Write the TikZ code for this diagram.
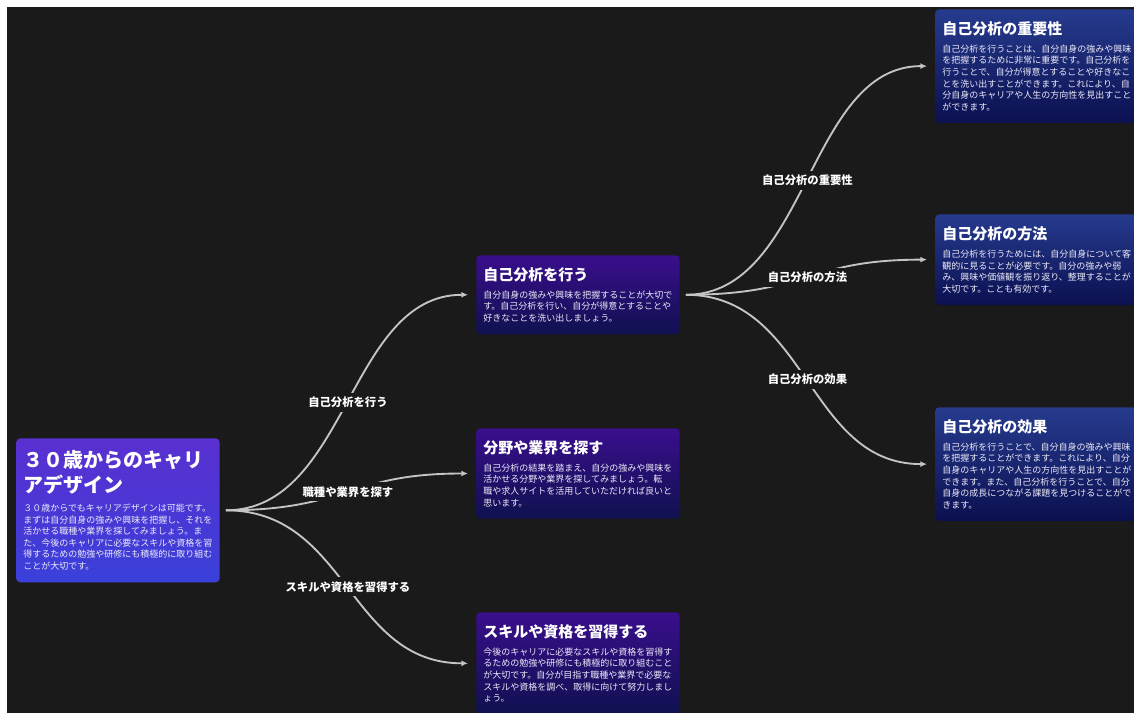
\documentclass[tikz,border=0pt]{standalone}
\usepackage{fontspec}
\setmainfont{Noto Sans CJK JP}
\usetikzlibrary{arrows.meta}

\definecolor{canvas}{HTML}{1A1A1A}
\definecolor{linkgray}{HTML}{C4C4C4}
\definecolor{rootTop}{HTML}{5A2FD0}
\definecolor{rootBot}{HTML}{3A40DA}
\definecolor{midTop}{HTML}{3A0E8C}
\definecolor{midBot}{HTML}{0F1150}
\definecolor{sideTop}{HTML}{263B8E}
\definecolor{sideBot}{HTML}{0B1050}
\definecolor{bodytext}{HTML}{ECEAF8}

\newcommand{\cardtitle}[1]{{\fontsize{11.25}{14}\selectfont\bfseries\color{white}#1\par}\vspace{5pt}}

\begin{document}
\begin{tikzpicture}[x=0.75pt,y=-0.75pt,
  card/.style={anchor=north west, rounded corners=3pt, text width=142pt, align=left,
    inner xsep=5.25pt, inner ysep=9pt, text=bodytext, font=\fontsize{6.75}{8.7}\selectfont},
  rootcard/.style={card, top color=rootTop, bottom color=rootBot},
  midcard/.style={card, top color=midTop, bottom color=midBot},
  sidecard/.style={card, top color=sideTop, bottom color=sideBot},
  link/.style={draw=linkgray, line width=1.4pt, -{Latex[length=5pt,width=4.5pt]},
    shorten <=4.5pt, shorten >=6pt},
  tag/.style={fill=canvas, text=white, inner sep=3pt,
    font=\fontsize{8.5}{10}\selectfont\bfseries}]

  \clip (0,0) rectangle (1134,713);
  \fill[white] (0,0) rectangle (1134,713);
  \fill[canvas] (7,7) rectangle (1134,713);

  % root
  \node[rootcard] (root) at (16,438) {%
    {\fontsize{15}{18.75}\selectfont\bfseries\color{white}３０歳からのキャリ\\アデザイン\par}\vspace{5.7pt}
    ３０歳からでもキャリアデザインは可能です。\\
    まずは自分自身の強みや興味を把握し、それを\\
    活かせる職種や業界を探してみましょう。ま\\
    た、今後のキャリアに必要なスキルや資格を習\\
    得するための勉強や研修にも積極的に取り組む\\
    ことが大切です。};

  % middle column
  \node[midcard] (self) at (476,255) {%
    \cardtitle{自己分析を行う}
    自分自身の強みや興味を把握することが大切で\\
    す。自己分析を行い、自分が得意とすることや\\
    好きなことを洗い出しましょう。};
  \node[midcard] (field) at (476,428) {%
    \cardtitle{分野や業界を探す}
    自己分析の結果を踏まえ、自分の強みや興味を\\
    活かせる分野や業界を探してみましょう。転\\
    職や求人サイトを活用していただければ良いと\\
    思います。};
  \node[midcard] (skill) at (476,612) {%
    \cardtitle{スキルや資格を習得する}
    今後のキャリアに必要なスキルや資格を習得す\\
    るための勉強や研修にも積極的に取り組むこと\\
    が大切です。自分が目指す職種や業界で必要な\\
    スキルや資格を調べ、取得に向けて努力しまし\\
    ょう。};

  % right column
  \node[sidecard] (why) at (935,9) {%
    \cardtitle{自己分析の重要性}
    自己分析を行うことは、自分自身の強みや興味\\
    を把握するために非常に重要です。自己分析を\\
    行うことで、自分が得意とすることや好きなこ\\
    とを洗い出すことができます。これにより、自\\
    分自身のキャリアや人生の方向性を見出すこと\\
    ができます。};
  \node[sidecard] (how) at (935,214) {%
    \cardtitle{自己分析の方法}
    自己分析を行うためには、自分自身について客\\
    観的に見ることが必要です。自分の強みや弱\\
    み、興味や価値観を振り返り、整理することが\\
    大切です。ことも有効です。};
  \node[sidecard] (gain) at (935,407) {%
    \cardtitle{自己分析の効果}
    自己分析を行うことで、自分自身の強みや興味\\
    を把握することができます。これにより、自分\\
    自身のキャリアや人生の方向性を見出すことが\\
    できます。また、自己分析を行うことで、自分\\
    自身の成長につながる課題を見つけることがで\\
    きます。};

  % connectors
  \draw[link] (root.east) .. controls +(128,0) and +(-128,0) .. node[tag] (l1) {自己分析を行う} (self.west);
  \draw[link] (root.east) .. controls +(128,0) and +(-128,0) .. node[tag] (l2) {職種や業界を探す} (field.west);
  \draw[link] (root.east) .. controls +(128,0) and +(-128,0) .. node[tag] (l3) {スキルや資格を習得する} (skill.west);

  \draw[link] (self.east) .. controls +(128,0) and +(-128,0) .. node[tag] (l4) {自己分析の重要性} (why.west);
  \draw[link] (self.east) .. controls +(128,0) and +(-128,0) .. node[tag] (l5) {自己分析の方法} (how.west);
  \draw[link] (self.east) .. controls +(128,0) and +(-128,0) .. node[tag] (l6) {自己分析の効果} (gain.west);
\end{tikzpicture}
\end{document}
